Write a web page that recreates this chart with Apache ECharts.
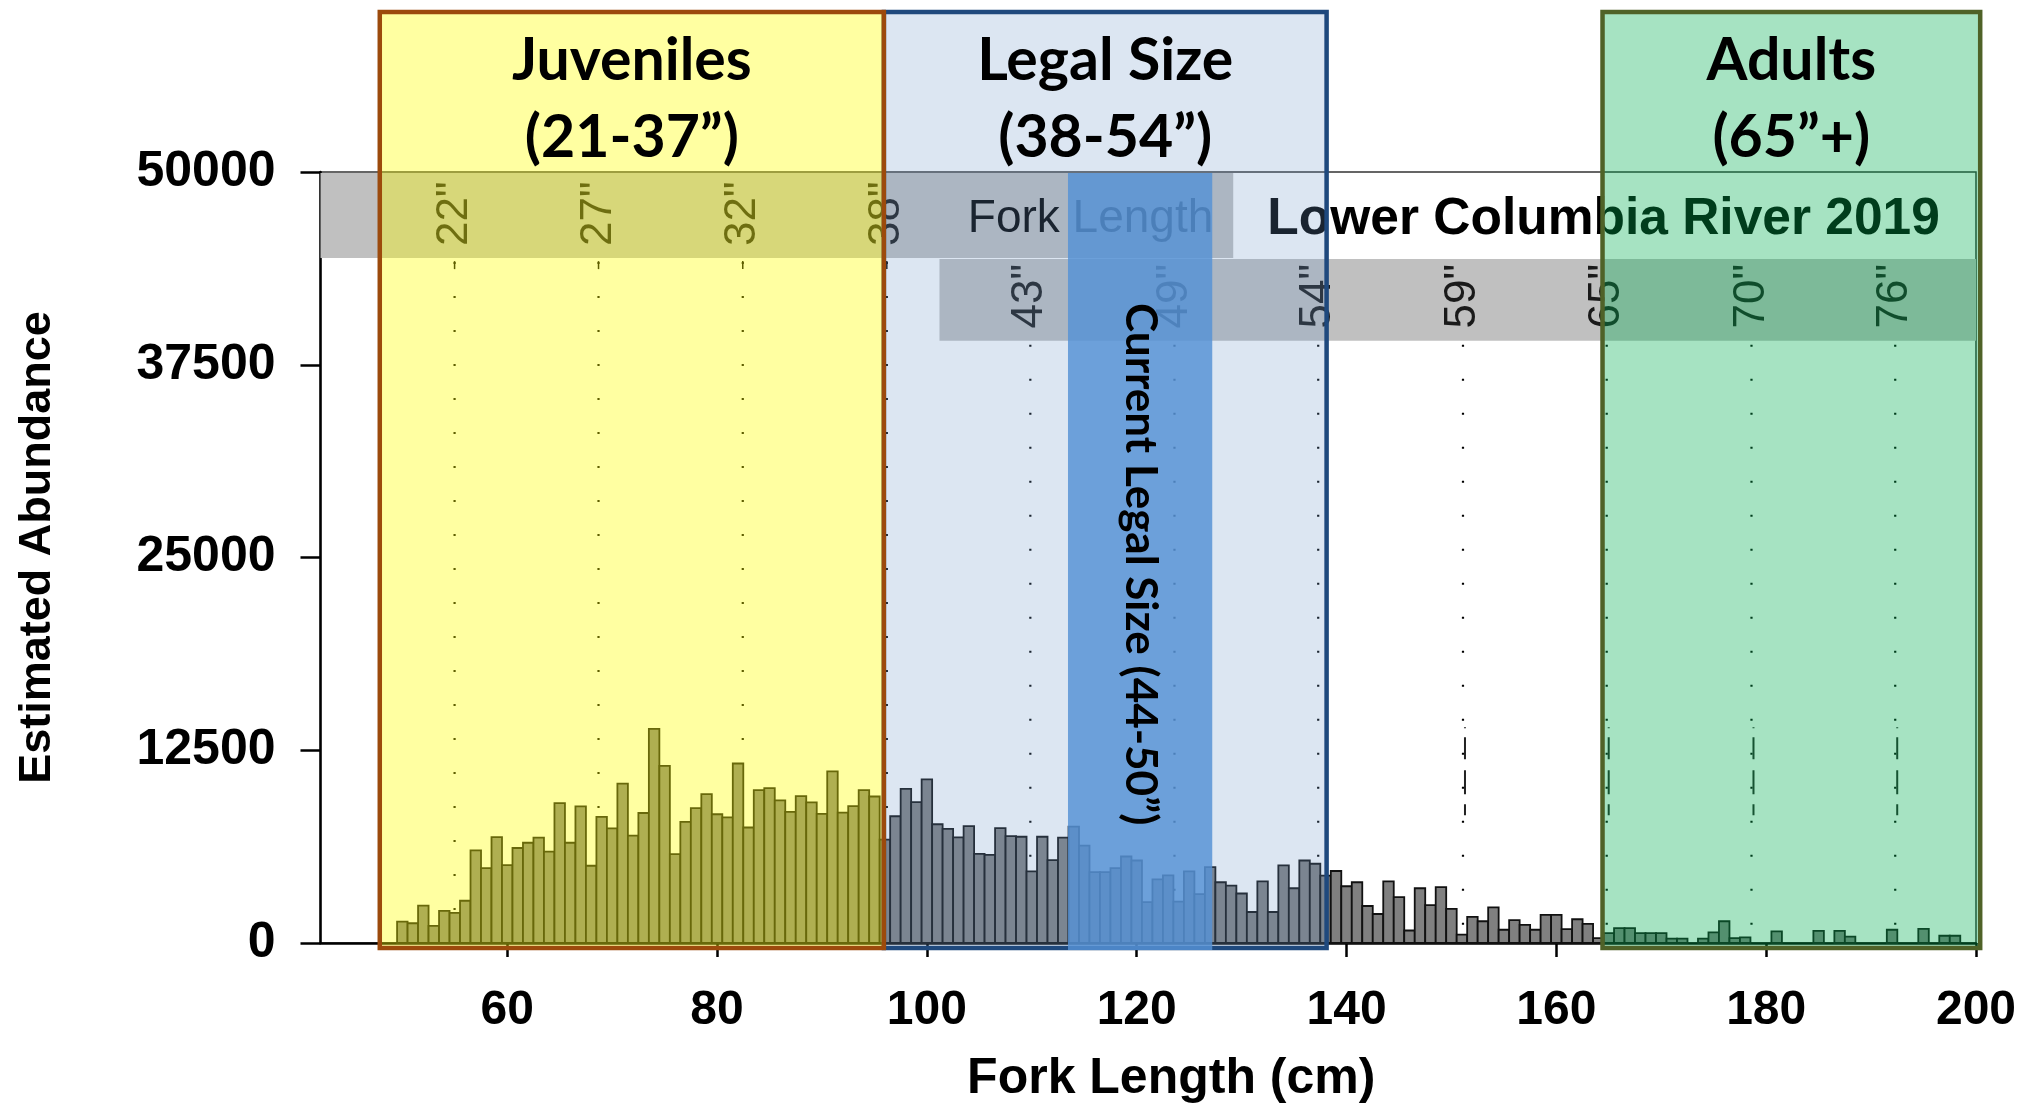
<!DOCTYPE html>
<html>
<head>
<meta charset="utf-8">
<script src="https://cdn.jsdelivr.net/npm/echarts@6/dist/echarts.min.js"></script>
<style>
html,body{margin:0;padding:0;background:#fff;}
#chart{width:2029px;height:1109px;}
</style>
</head>
<body>
<div id="chart"></div>
<script>
// ---------------- data ----------------
const lengthCm = [
  50,51,52,53,54,55,56,57,58,59,60,61,62,63,64,65,66,67,68,69,
  70,71,72,73,74,75,76,77,78,79,80,81,82,83,84,85,86,87,88,89,
  90,91,92,93,94,95,96,97,98,99,100,101,102,103,104,105,106,107,108,109,
  110,111,112,113,114,115,116,117,118,119,120,121,122,123,124,125,126,127,128,129,
  130,131,132,133,134,135,136,137,138,139,140,141,142,143,144,145,146,147,148,149,
  150,151,152,153,154,155,156,157,158,159,160,161,162,163,164,165,166,167,168,169,
  170,171,172,173,174,175,176,177,178,179,180,181,182,183,184,185,186,187,188,189,
  190,191,192,193,194,195,196,197,198,199
];
const abundance = [
  1390,1280,2420,1110,2080,1950,2740,6010,4860,6870,5050,6160,6500,6830,5930,9070,6500,8860,5010,8180,
  7430,10340,6960,8430,13890,11490,5760,7850,8750,9650,8350,8150,11640,7490,9910,10040,9250,8500,9520,9120,
  8370,11130,8450,8880,9910,9500,6700,8220,9990,9140,10610,7700,7400,6850,7580,5780,5710,7450,6930,6890,
  4640,6890,5370,6830,7550,6310,4600,4600,4860,5610,5350,2650,4130,4390,2680,4640,3170,4920,3940,3720,
  3210,2010,4000,2010,5030,3550,5350,5140,4370,4670,3680,3940,2400,1880,4000,2980,810,3550,2460,3620,
  2210,540,1690,1410,2310,860,1480,1180,860,1820,1820,900,1540,1240,320,640,960,960,640,640,
  640,280,280,0,280,690,1410,320,370,0,0,750,0,0,0,790,0,790,410,0,
  0,0,860,0,0,920,0,470,470,0
];
const xTickValues = [60, 80, 100, 120, 140, 160, 180, 200];
const yTickValues = [0, 12500, 25000, 37500, 50000];

// secondary (inch) scale
const inchLabels = ['22"', '27"', '32"', '38"', '43"', '49"', '54"', '59"', '65"', '70"', '76"'];
const inchPositionCm = [54.98, 68.70, 82.45, 96.18, 109.86, 123.6, 137.3, 151.1, 164.8, 178.6, 192.3];
const inchRow = [0, 0, 0, 0, 1, 1, 1, 1, 1, 1, 1];

// size groups
const groupNames = ['Juveniles', 'Legal Size', 'Adults'];
const groupRanges = ['(21-37”)', '(38-54”)', '(65”+)'];
const groupFromCm = [47.85, 95.9, 164.4];
const groupToCm = [95.9, 138.1, 200.4];

const currentLegalLabel = ['Current Legal Size (44-50”)'];
const currentLegalFromCm = [113.45];
const currentLegalToCm = [127.2];

const secondaryTitle = 'Fork Length';
const chartTitle = 'Lower Columbia River 2019';
const xAxisTitle = 'Fork Length (cm)';
const yAxisTitle = 'Estimated Abundance';

// ---------------- layout / style constants ----------------
const ARIAL = "'Liberation Sans', Arial, sans-serif";
const CALIBRI = "Lato, 'Open Sans', sans-serif";
const X_MIN = 42.2, X_MAX = 200;
const BAND_TOP = 50000, BAND_MID = 44415, BAND_BOTTOM = 39060;
const bandRowsFrom = [X_MIN, 101.2];
const bandRowsTo = [129.2, X_MAX];
const bandRowsTop = [BAND_TOP, BAND_MID];
const bandRowsBottom = [BAND_MID, BAND_BOTTOM];
const inchRowCenter = [47300, 41950];
const titleAnchors = [[115.6, 46900], [164.5, 46900]];
const currentLabelAnchorY = 24570;
const groupStyles = [
  {fill: 'rgba(255,255,0,0.37)', stroke: '#9c4a0c'},
  {fill: 'rgba(109,150,200,0.24)', stroke: '#1f497d'},
  {fill: 'rgba(0,176,80,0.35)', stroke: '#4f6228'}
];

const chart = echarts.init(document.getElementById('chart'));

const option = {
  animation: false,
  backgroundColor: '#ffffff',
  grid: {left: 320.5, right: 53, top: 172, bottom: 158, show: true,
         borderColor: '#333', borderWidth: 1.5, backgroundColor: 'transparent'},
  xAxis: {
    type: 'value', min: X_MIN, max: X_MAX,
    axisLine: {show: true, onZero: false, lineStyle: {color: '#000', width: 2.5}},
    axisTick: {show: true, length: 14, customValues: xTickValues, lineStyle: {color: '#000', width: 2.5}},
    axisLabel: {customValues: xTickValues, fontSize: 48, fontWeight: 'bold', fontFamily: ARIAL,
                color: '#000', margin: 44, formatter: v => String(v)},
    splitLine: {show: false},
    name: xAxisTitle, nameLocation: 'middle', nameGap: 111,
    nameTextStyle: {fontSize: 50, fontWeight: 'bold', fontFamily: ARIAL, color: '#000', padding: [0, 0, 0, 46]}
  },
  yAxis: {
    type: 'value', min: 0, max: 50000,
    axisLine: {show: true, lineStyle: {color: '#000', width: 2.5}},
    axisTick: {show: true, length: 20, customValues: yTickValues, lineStyle: {color: '#000', width: 2.5}},
    axisLabel: {customValues: yTickValues, fontSize: 50, fontWeight: 'bold', fontFamily: ARIAL,
                color: '#000', margin: 45, formatter: v => String(v)},
    splitLine: {show: false},
    name: yAxisTitle, nameLocation: 'middle', nameRotate: 90, nameGap: 260,
    nameTextStyle: {fontSize: 45, fontWeight: 'bold', fontFamily: ARIAL, color: '#000', padding: [0, 0, 0, 20]}
  },
  series: [
    // grey bands of the inch scale
    {
      type: 'custom', name: 'bands', z: 1, silent: true, clip: false,
      data: bandRowsFrom.map((f, i) => [f, bandRowsTo[i], bandRowsTop[i], bandRowsBottom[i]]),
      renderItem(params, api) {
        const a = api.coord([api.value(0), api.value(2)]);
        const b = api.coord([api.value(1), api.value(3)]);
        return {type: 'rect', shape: {x: a[0], y: a[1] + 1, width: b[0] - a[0], height: b[1] - a[1] - 1},
                style: {fill: '#c0c0c0'}};
      }
    },
    // titles in the band area
    {
      type: 'custom', name: 'titles', z: 2, silent: true, clip: false,
      data: titleAnchors,
      renderItem(params, api) {
        const p = api.coord([api.value(0), api.value(1)]);
        const isTitle = params.dataIndex === 1;
        return {type: 'text', x: p[0], y: p[1],
                style: {text: isTitle ? chartTitle : secondaryTitle, fill: '#000',
                        fontSize: isTitle ? 51.5 : 46, fontWeight: isTitle ? 'bold' : 'normal',
                        fontFamily: ARIAL, align: 'center', verticalAlign: 'middle'}};
      }
    },
    // inch labels
    {
      type: 'custom', name: 'inchLabels', z: 2, silent: true, clip: false,
      data: inchPositionCm.map((x, i) => [x, inchRow[i]]),
      renderItem(params, api) {
        const p = api.coord([api.value(0), inchRowCenter[api.value(1)]]);
        return {type: 'text', x: p[0], y: p[1], rotation: Math.PI / 2,
                style: {text: inchLabels[params.dataIndex], fill: '#1a1a1a', fontSize: 44,
                        fontFamily: ARIAL, align: 'center', verticalAlign: 'middle'}};
      }
    },
    // dotted guide lines
    {
      type: 'custom', name: 'guides', z: 3, silent: true, clip: false,
      data: inchPositionCm.map((x, i) => [x, inchRow[i]]),
      renderItem(params, api) {
        const row = api.value(1);
        const top = api.coord([api.value(0), bandRowsBottom[row]]);
        const base = api.coord([api.value(0), 0]);
        const children = [
          {type: 'line', shape: {x1: top[0], y1: top[1] + 4, x2: top[0], y2: base[1]},
           style: {stroke: '#000', lineWidth: 2.2, lineDash: [2, 32]}}
        ];
        if (row === 0) {
          children.push({type: 'line', shape: {x1: top[0], y1: top[1] + 3, x2: top[0], y2: top[1] + 11},
                         style: {stroke: '#000', lineWidth: 1.5}});
        }
        if (params.dataIndex >= 7) {
          const d1 = api.coord([api.value(0), 13990]);
          const d2 = api.coord([api.value(0), 8280]);
          children.push({type: 'line', shape: {x1: d1[0] + 2, y1: d1[1], x2: d1[0] + 2, y2: d2[1]},
                         style: {stroke: '#222', lineWidth: 2, lineDash: [1, 9, 22, 11, 24, 10, 12, 0]}});
        }
        return {type: 'group', children};
      }
    },
    // histogram bars
    {
      type: 'custom', name: 'Estimated Abundance', z: 3,
      data: lengthCm.map((x, i) => [x, abundance[i]]),
      renderItem(params, api) {
        const v = api.value(1);
        if (!v) return null;
        const a = api.coord([api.value(0) - 0.5, v]);
        const b = api.coord([api.value(0) + 0.5, 0]);
        return {type: 'rect', shape: {x: a[0], y: a[1], width: b[0] - a[0], height: b[1] - a[1]},
                style: {fill: '#808080', stroke: '#111', lineWidth: 1.8}};
      }
    },
    // group overlays
    {
      type: 'custom', name: 'groups', z: 5, silent: true, clip: false,
      data: groupFromCm.map((f, i) => [f, groupToCm[i]]),
      renderItem(params, api) {
        const i = params.dataIndex;
        const l = api.coord([api.value(0), 0]);
        const r = api.coord([api.value(1), 0]);
        const top = 12, bottom = l[1] + 5;
        return {type: 'rect', z2: i === 0 ? 3 : 1,
                shape: {x: l[0], y: top, width: r[0] - l[0], height: bottom - top},
                style: {fill: groupStyles[i].fill, stroke: groupStyles[i].stroke, lineWidth: 4.5}};
      }
    },
    // current legal size band
    {
      type: 'custom', name: 'currentLegal', z: 6, silent: true, clip: false,
      data: currentLegalFromCm.map((f, i) => [f, currentLegalToCm[i]]),
      renderItem(params, api) {
        const a = api.coord([api.value(0), BAND_TOP]);
        const b = api.coord([api.value(1), 0]);
        return {type: 'rect', shape: {x: a[0], y: a[1] + 1, width: b[0] - a[0], height: b[1] + 6 - a[1]},
                style: {fill: 'rgba(85,146,213,0.83)'}};
      }
    },
    // group labels
    {
      type: 'custom', name: 'groupLabels', z: 7, silent: true, clip: false,
      data: groupFromCm.map((f, i) => [(f + groupToCm[i]) / 2]),
      renderItem(params, api) {
        const i = params.dataIndex;
        const p = api.coord([api.value(0), 0]);
        const st = {fill: '#000', fontSize: 59, fontWeight: 'bold', fontFamily: CALIBRI,
                    align: 'center', verticalAlign: 'middle'};
        return {type: 'group', children: [
          {type: 'text', x: p[0], y: 61, style: Object.assign({text: groupNames[i]}, st)},
          {type: 'text', x: p[0], y: 138, style: Object.assign({text: groupRanges[i]}, st)}
        ]};
      }
    },
    // current legal size label
    {
      type: 'custom', name: 'currentLegalLabel', z: 7, silent: true, clip: false,
      data: currentLegalFromCm.map((f, i) => [(f + currentLegalToCm[i]) / 2, currentLabelAnchorY]),
      renderItem(params, api) {
        const p = api.coord([api.value(0), api.value(1)]);
        return {type: 'text', x: p[0], y: p[1], rotation: -Math.PI / 2,
                style: {text: currentLegalLabel[params.dataIndex], fill: '#000', fontSize: 44,
                        fontWeight: 'bold', fontFamily: CALIBRI, align: 'center', verticalAlign: 'middle'}};
      }
    }
  ]
};
chart.setOption(option);
</script>
</body>
</html>
